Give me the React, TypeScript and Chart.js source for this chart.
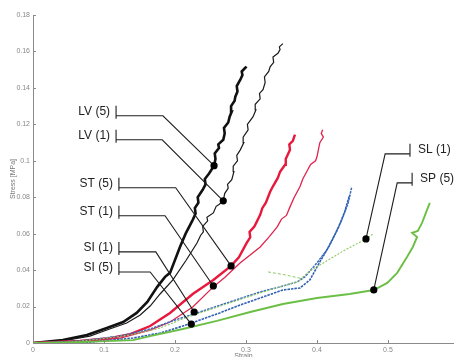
import React, { useEffect, useRef } from "react";
import { Chart, registerables } from "chart.js";

Chart.register(...registerables);

type Pt = [number, number];

const xTicks = [0, 0.1, 0.2, 0.3, 0.4, 0.5];
const yTicks = [0, 0.02, 0.04, 0.06, 0.08, 0.1, 0.12, 0.14, 0.16, 0.18];
const xMax = 0.593;
const yMax = 0.18;

// LV (5) – thick black
const lv5: Pt[] = [
  [0, 0], [0.042, 0.0016], [0.076, 0.0044], [0.104, 0.0082], [0.127, 0.0115],
  [0.146, 0.0165], [0.161, 0.0225], [0.175, 0.0308], [0.186, 0.0363], [0.193, 0.0385],
  [0.207, 0.0527], [0.215, 0.060], [0.225, 0.0676], [0.229, 0.071], [0.228, 0.074],
  [0.233, 0.077], [0.232, 0.080], [0.239, 0.0841], [0.243, 0.087], [0.242, 0.090],
  [0.248, 0.093], [0.255, 0.0973], [0.257, 0.101], [0.256, 0.104], [0.262, 0.107],
  [0.261, 0.109], [0.268, 0.1115], [0.270, 0.115], [0.269, 0.118], [0.275, 0.121],
  [0.277, 0.1242], [0.280, 0.127], [0.279, 0.130], [0.284, 0.133], [0.285, 0.1352],
  [0.288, 0.138], [0.287, 0.141], [0.292, 0.1445], [0.295, 0.147], [0.294, 0.149],
  [0.299, 0.151], [0.301, 0.1516],
];

// LV (1) – thin black
const lv1: Pt[] = [
  [0, 0], [0.042, 0.0011], [0.080, 0.0038], [0.108, 0.0077], [0.132, 0.011],
  [0.151, 0.0154], [0.165, 0.0203], [0.179, 0.0269], [0.197, 0.0346], [0.215, 0.045],
  [0.231, 0.0549], [0.236, 0.059], [0.240, 0.061], [0.239, 0.064], [0.246, 0.067],
  [0.245, 0.069], [0.254, 0.0714], [0.258, 0.075], [0.262, 0.076], [0.268, 0.078],
  [0.270, 0.082], [0.275, 0.085], [0.274, 0.087], [0.280, 0.0896], [0.283, 0.094],
  [0.282, 0.097], [0.288, 0.100], [0.287, 0.103], [0.292, 0.106], [0.297, 0.110],
  [0.296, 0.113], [0.303, 0.117], [0.302, 0.120], [0.310, 0.1242], [0.314, 0.128],
  [0.313, 0.131], [0.320, 0.134], [0.319, 0.137], [0.324, 0.139], [0.327, 0.143],
  [0.326, 0.146], [0.332, 0.149], [0.334, 0.1516], [0.339, 0.154], [0.338, 0.157],
  [0.345, 0.159], [0.348, 0.161], [0.347, 0.1625], [0.352, 0.1643],
];

// ST (5) – thick red
const st5: Pt[] = [
  [0, 0], [0.066, 0.0011], [0.108, 0.0027], [0.137, 0.0049], [0.165, 0.0093],
  [0.193, 0.0165], [0.225, 0.0269], [0.254, 0.0346], [0.279, 0.0423], [0.290, 0.047],
  [0.301, 0.0549], [0.306, 0.058], [0.305, 0.061], [0.312, 0.064], [0.320, 0.0703],
  [0.323, 0.074], [0.328, 0.077], [0.334, 0.083], [0.338, 0.086], [0.345, 0.0907],
  [0.348, 0.094], [0.355, 0.0978], [0.356, 0.101], [0.362, 0.106], [0.361, 0.109],
  [0.366, 0.111], [0.369, 0.1143],
];

// ST (1) – thin red
const st1: Pt[] = [
  [0, 0], [0.080, 0.0011], [0.123, 0.0027], [0.165, 0.0071], [0.193, 0.0115],
  [0.225, 0.0198], [0.254, 0.0308], [0.270, 0.036], [0.292, 0.044], [0.305, 0.048],
  [0.320, 0.0527], [0.332, 0.058], [0.344, 0.0637], [0.350, 0.068], [0.357, 0.070],
  [0.362, 0.0747], [0.368, 0.080], [0.376, 0.0857], [0.380, 0.090], [0.387, 0.0951],
  [0.391, 0.098], [0.398, 0.100], [0.400, 0.1022], [0.404, 0.1099], [0.409, 0.113],
  [0.406, 0.115], [0.408, 0.117],
];

// SI (1) – blue, upper strand
const si1: Pt[] = [
  [0, 0], [0.066, 0.0011], [0.123, 0.0038], [0.165, 0.0077], [0.200, 0.0126],
  [0.235, 0.0170], [0.277, 0.0225], [0.320, 0.028], [0.348, 0.0308], [0.372, 0.0335],
  [0.383, 0.0363], [0.400, 0.044], [0.414, 0.0511], [0.425, 0.0593], [0.435, 0.0676],
  [0.444, 0.0769], [0.449, 0.0857],
];

// SI (5) – blue, lower strand
const si5: Pt[] = [
  [0, 0], [0.080, 0.0005], [0.141, 0.0027], [0.179, 0.0055], [0.211, 0.0093],
  [0.235, 0.0126], [0.263, 0.0165], [0.292, 0.0209], [0.320, 0.0247], [0.352, 0.0291],
  [0.376, 0.0302], [0.390, 0.0346], [0.404, 0.0445], [0.418, 0.0538], [0.430, 0.0632],
  [0.439, 0.0720], [0.446, 0.0813],
];

// SL (1) – light green dotted
const sl1: Pt[] = [
  [0, 0], [0.052, 0.0005], [0.094, 0.0022], [0.137, 0.0044], [0.179, 0.0082],
  [0.214, 0.0137], [0.235, 0.0165], [0.277, 0.022], [0.320, 0.0275], [0.348, 0.0308],
  [0.372, 0.0335], [0.390, 0.0396], [0.414, 0.0451], [0.437, 0.0505], [0.456, 0.0544],
  [0.469, 0.0571], [0.479, 0.0599],
];
const sl1Loop: Pt[] = [[0.331, 0.039], [0.355, 0.0374], [0.380, 0.0352]];

// SP (5) – green
const sp5: Pt[] = [
  [0, 0], [0.066, 0.0005], [0.141, 0.0016], [0.165, 0.0038], [0.211, 0.0077],
  [0.259, 0.0121], [0.306, 0.0170], [0.352, 0.0214], [0.400, 0.0247], [0.446, 0.0269],
  [0.480, 0.0291], [0.499, 0.033], [0.513, 0.0385], [0.527, 0.0473], [0.535, 0.0527],
  [0.541, 0.0582], [0.534, 0.0604], [0.542, 0.0615], [0.548, 0.0659], [0.555, 0.0731],
  [0.559, 0.0769],
];

// Callout annotations (data coordinates)
const annLabels = ["LV (5)", "LV (1)", "ST (5)", "ST (1)", "SI (1)", "SI (5)", "SL (1)", "SP (5)"];
const annSide = ["left", "left", "left", "left", "left", "left", "right", "right"];
const annBarX = [0.117, 0.117, 0.121, 0.121, 0.121, 0.121, 0.531, 0.534];
const annLineY = [0.1247, 0.1115, 0.0852, 0.0698, 0.050, 0.039, 0.1038, 0.0879];
const annElbowX = [0.183, 0.182, 0.201, 0.186, 0.173, 0.165, 0.496, 0.513];
const annDot: Pt[] = [
  [0.255, 0.0973], [0.268, 0.078], [0.279, 0.0423], [0.254, 0.0313],
  [0.227, 0.017], [0.223, 0.0104], [0.469, 0.0571], [0.480, 0.0291],
];

const toXY = (p: Pt[]) => p.map(([x, y]) => ({ x, y }));

const calloutPlugin = {
  id: "callouts",
  afterDatasetsDraw(chart: any) {
    const { ctx, scales } = chart;
    const xs = scales.x;
    const ys = scales.y;
    ctx.save();
    for (let i = 0; i < annLabels.length; i++) {
      const bx = xs.getPixelForValue(annBarX[i]);
      const ly = ys.getPixelForValue(annLineY[i]);
      const ex = xs.getPixelForValue(annElbowX[i]);
      const dx = xs.getPixelForValue(annDot[i][0]);
      const dy = ys.getPixelForValue(annDot[i][1]);
      ctx.strokeStyle = "#1e1e1e";
      ctx.lineWidth = 1.1;
      ctx.beginPath();
      ctx.moveTo(bx, ly);
      ctx.lineTo(ex, ly);
      ctx.lineTo(dx, dy);
      ctx.stroke();
      ctx.beginPath();
      ctx.moveTo(bx, ly - 10);
      ctx.lineTo(bx, ly + 3);
      ctx.stroke();
      ctx.fillStyle = "#000";
      ctx.beginPath();
      ctx.arc(dx, dy, 3.6, 0, Math.PI * 2);
      ctx.fill();
      ctx.font = '12px Arial, "Liberation Sans", sans-serif';
      ctx.fillStyle = "#222";
      ctx.textBaseline = "middle";
      if (annSide[i] === "left") {
        ctx.textAlign = "right";
        ctx.fillText(annLabels[i], bx - 6, ly - 4.5);
      } else {
        ctx.textAlign = "left";
        ctx.fillText(annLabels[i], bx + 8, ly - 4.5);
      }
    }
    ctx.restore();
  },
};

const inwardTicks = {
  id: "inwardTicks",
  afterDraw(chart: any) {
    const { ctx, chartArea, scales } = chart;
    ctx.save();
    ctx.strokeStyle = "#8a8a8a";
    ctx.lineWidth = 1;
    ctx.beginPath();
    for (const v of xTicks) {
      const px = Math.round(scales.x.getPixelForValue(v)) + 0.5;
      ctx.moveTo(px, chartArea.bottom);
      ctx.lineTo(px, chartArea.bottom - 3);
    }
    for (const v of yTicks) {
      const py = Math.round(scales.y.getPixelForValue(v)) + 0.5;
      ctx.moveTo(chartArea.left, py);
      ctx.lineTo(chartArea.left + 3, py);
    }
    ctx.stroke();
    ctx.restore();
  },
};

export default function App() {
  const ref = useRef<HTMLCanvasElement | null>(null);

  useEffect(() => {
    if (!ref.current) return;
    const tickFont = { size: 7, family: 'Arial, "Liberation Sans", sans-serif' };
    const chart = new Chart(ref.current, {
      type: "line",
      data: {
        datasets: [
          { label: "SP (5)", data: toXY(sp5), borderColor: "#6cbf45", borderWidth: 1.9, pointRadius: 0, tension: 0 },
          { label: "SL (1)", data: toXY(sl1), borderColor: "#8cc863", borderWidth: 1.1, borderDash: [2, 1.5], pointRadius: 0, tension: 0 },
          { label: "SL (1) b", data: toXY(sl1Loop), borderColor: "#8cc863", borderWidth: 1, borderDash: [3, 2], pointRadius: 0, tension: 0 },
          { label: "SI (5)", data: toXY(si5), borderColor: "#2f5fb3", borderWidth: 1.6, borderDash: [2.5, 1], pointRadius: 0, tension: 0 },
          { label: "SI (1)", data: toXY(si1), borderColor: "#3a68b8", borderWidth: 1.5, borderDash: [2.5, 1], pointRadius: 0, tension: 0 },
          { label: "ST (1)", data: toXY(st1), borderColor: "#e0234d", borderWidth: 1.3, pointRadius: 0, tension: 0 },
          { label: "ST (5)", data: toXY(st5), borderColor: "#e8173c", borderWidth: 2.4, pointRadius: 0, tension: 0 },
          { label: "LV (1)", data: toXY(lv1), borderColor: "#1a1a1a", borderWidth: 1.2, pointRadius: 0, tension: 0 },
          { label: "LV (5)", data: toXY(lv5), borderColor: "#111111", borderWidth: 2.6, pointRadius: 0, tension: 0 },
        ],
      },
      options: {
        animation: false,
        responsive: false,
        maintainAspectRatio: false,
        devicePixelRatio: 1,
        layout: { padding: { top: 15, right: 0, bottom: 0, left: 0 } },
        plugins: { legend: { display: false }, tooltip: { enabled: false } },
        scales: {
          x: {
            type: "linear",
            min: 0,
            max: xMax,
            afterBuildTicks: (s: any) => {
              s.ticks = xTicks.map((v) => ({ value: v }));
            },
            afterFit: (s: any) => {
              s.height = 14;
            },
            grid: { display: false, drawTicks: false },
            border: { display: true, color: "#8a8a8a", width: 1 },
            ticks: {
              font: tickFont,
              color: "#888",
              padding: 3,
              maxRotation: 0,
              autoSkip: false,
              callback: (v: any) => String(v),
            },
            title: {
              display: true,
              text: "Strain",
              font: tickFont,
              color: "#777",
              padding: { top: 0, bottom: -3 },
            },
          },
          y: {
            type: "linear",
            min: 0,
            max: yMax,
            afterBuildTicks: (s: any) => {
              s.ticks = yTicks.map((v) => ({ value: v }));
            },
            afterFit: (s: any) => {
              s.width = 33;
            },
            grid: { display: false, drawTicks: false },
            border: { display: true, color: "#8a8a8a", width: 1 },
            ticks: {
              font: tickFont,
              color: "#888",
              padding: 3,
              autoSkip: false,
              callback: (v: any) => String(v),
            },
            title: {
              display: true,
              text: "Stress [MPa]",
              font: tickFont,
              color: "#777",
              padding: { top: 9, bottom: 0 },
            },
          },
        },
      },
      plugins: [calloutPlugin, inwardTicks],
    } as any);
    return () => chart.destroy();
  }, []);

  return (
    <div style={{ position: "fixed", left: 0, top: 0, width: 454, height: 357, background: "#fff", overflow: "hidden" }}>
      <canvas ref={ref} width={454} height={357} style={{ display: "block", width: 454, height: 357 }} />
    </div>
  );
}
